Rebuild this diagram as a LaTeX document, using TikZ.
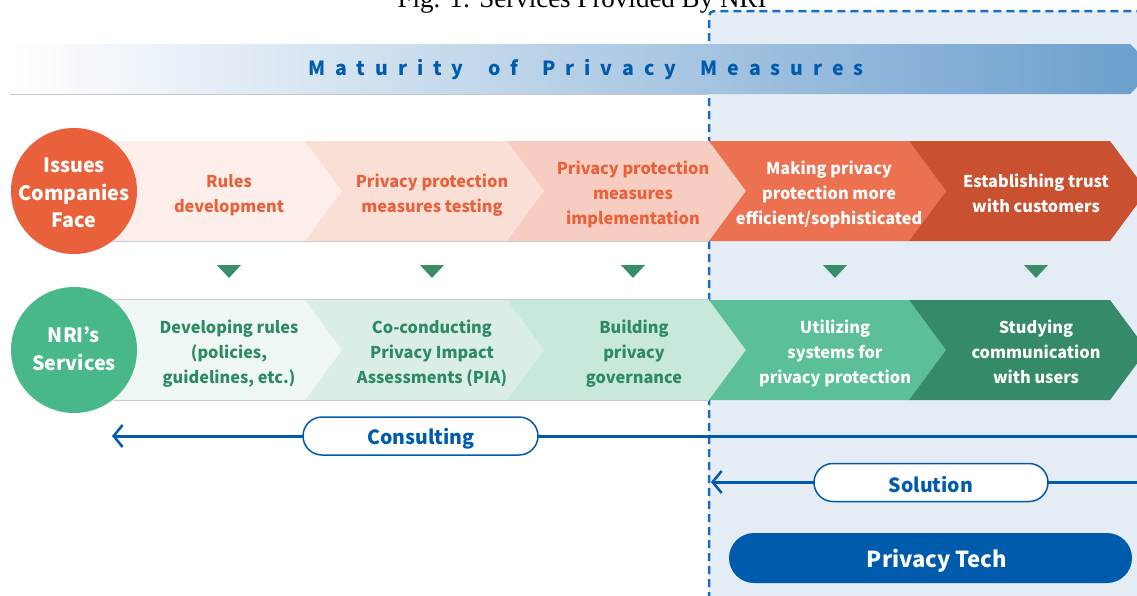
\documentclass[tikz,border=0pt]{standalone}
\usepackage{fontspec}
\setmainfont{Noto Sans CJK JP}
\newfontfamily\serifx{Liberation Serif}
\usetikzlibrary{arrows.meta,shapes.misc}
\definecolor{issueC}{HTML}{E8613A}
\definecolor{rA}{HTML}{FDEEEA}
\definecolor{rB}{HTML}{FADFD6}
\definecolor{rC}{HTML}{F6CDC0}
\definecolor{rD}{HTML}{EC7150}
\definecolor{rE}{HTML}{C9512F}
\definecolor{nriC}{HTML}{48B78A}
\definecolor{gA}{HTML}{EEF7F3}
\definecolor{gB}{HTML}{DAEEE5}
\definecolor{gC}{HTML}{C8E8DA}
\definecolor{gD}{HTML}{5BBF98}
\definecolor{gE}{HTML}{358B67}
\definecolor{gText}{HTML}{2E8A62}
\definecolor{triC}{HTML}{398E69}
\definecolor{blueC}{HTML}{005BAC}
\definecolor{dashC}{HTML}{1A6CC0}
\definecolor{bgC}{HTML}{E4ECF6}
\definecolor{barR}{HTML}{6A9ECD}
\newcommand{\mychev}[4]{\fill[#4] (#1,#2-50) -- (#3,#2-50) -- (#3+37,#2) -- (#3,#2+50) -- (#1,#2+50) -- (#1+37,#2) -- cycle;}
\tikzset{
  rowtext/.style={align=center, font=\bfseries\fontsize{16.3}{25}\selectfont, inner sep=0pt, yshift=-2.5pt},
  circtext/.style={circle, minimum size=126pt, inner sep=0pt, align=center, text=white,
    font=\bfseries\fontsize{19.7}{27.5}\selectfont},
  pill/.style={draw=blueC, line width=1.5pt, fill=white, rounded rectangle, inner sep=0pt,
    minimum height=38pt},
  pilltext/.style={text=blueC, font=\bfseries\fontsize{19.5}{24}\selectfont, inner sep=0pt},
  flowline/.style={draw=blueC, line width=3pt, -{Straight Barb[length=9pt,width=22pt,line width=2.5pt]}},
}
\begin{document}
\begin{tikzpicture}[x=1pt,y=-1pt]
\useasboundingbox (0,0) rectangle (1137,595);
\clip (0,0) rectangle (1137,595);
% background area
\fill[bgC, rounded corners=5pt] (709,11) rectangle (1160,620);
\draw[dashC, line width=2.5pt, dash pattern=on 8pt off 5pt, rounded corners=5pt] (709,600) -- (709,11) -- (1160,11);
% title
\node[font=\serifx\fontsize{27}{28}\selectfont, anchor=base, inner sep=0pt] (title) at (582,7) {Fig. 1: Services Provided By NRI};
% maturity bar
\shade[left color=white, right color=barR] (10,44) -- (1130,44) -- (1155,69) -- (1130,94) -- (10,94) -- cycle;
\draw[gray!45, line width=1pt] (10,94) -- (709,94);
\node[text=blueC, font=\bfseries\fontsize{19.5}{24}\selectfont\addfontfeature{LetterSpace=51}, inner sep=0pt] (mat) at (586,70) {Maturity\hspace{10pt} of\hspace{10pt} Privacy\hspace{10pt} Measures};
% row 1
\fill[rA] (113,141) -- (305,141) -- (342,191) -- (305,241) -- (113,241) -- cycle;
\mychev{305}{191}{507}{rB}
\mychev{507}{191}{709}{rC}
\mychev{709}{191}{909}{rD}
\mychev{909}{191}{1110}{rE}
\draw[gray!40, line width=1pt] (113,241) -- (709,241);
% row 2
\fill[gA] (113,300) -- (305,300) -- (342,350) -- (305,400) -- (113,400) -- cycle;
\mychev{305}{350}{507}{gB}
\mychev{507}{350}{709}{gC}
\mychev{709}{350}{909}{gD}
\mychev{909}{350}{1110}{gE}
\draw[gray!40, line width=1pt] (113,299.5) -- (709,299.5);
\draw[gray!40, line width=1pt] (113,400.5) -- (709,400.5);
% circles
\node[circtext, fill=issueC] (issues) at (74,191) {};
\node[circtext, yshift=-2pt] (issuesT) at (74,191) {Issues\\Companies\\Face};
\node[circtext, fill=nriC] (nri) at (74,350) {};
\node[circtext] (nriT) at (74,349) {NRI’s\\Services};
% row 1 texts
\node[rowtext, text=issueC] (i1) at (229,193) {Rules\\development};
\node[rowtext, text=issueC] (i2) at (432,193) {Privacy protection\\measures testing};
\node[rowtext, text=issueC] (i3) at (633,192) {Privacy protection\\measures\\implementation};
\node[rowtext, text=white] (i4) at (829,192) {Making privacy\\protection more\\efficient/sophisticated};
\node[rowtext, text=white] (i5) at (1036,191) {Establishing trust\\with customers};
% row 2 texts
\node[rowtext, text=gText] (s1) at (229,351) {Developing rules\\(policies,\\guidelines, etc.)};
\node[rowtext, text=gText] (s2) at (432,351) {Co-conducting\\Privacy Impact\\Assessments (PIA)};
\node[rowtext, text=gText] (s3) at (634,351) {Building\\privacy\\governance};
\node[rowtext, text=white] (s4) at (835,351) {Utilizing\\systems for\\privacy protection};
\node[rowtext, text=white] (s5) at (1036,349) {Studying\\communication\\with users};
% triangles
\foreach \xx in {229,432,633,835,1036} {
  \fill[triC] (\xx-12,265) -- (\xx+12,265) -- (\xx,278) -- cycle;
}
% consulting arrow
\coordinate (cR) at (1140,436);
\coordinate (cL) at (112,436);
\draw[flowline] (cR) -- (cL);
\node[pill, minimum width=235pt] (cons) at (420.5,436) {};
\node[pilltext] (consT) at (421,439) {Consulting};
% solution arrow
\coordinate (sR) at (1140,482);
\coordinate (sL) at (711,482);
\draw[flowline] (sR) -- (sL);
\node[pill, minimum width=234pt] (sol) at (931,482.5) {};
\node[pilltext] (solT) at (931,485) {Solution};
% privacy tech
\node[fill=blueC, rounded rectangle, minimum width=403pt, minimum height=50pt, inner sep=0pt] (ptech) at (930.5,558) {};
\node[text=white, font=\bfseries\fontsize{22}{27}\selectfont, inner sep=0pt] (ptechT) at (937,560.5) {Privacy Tech};
\end{tikzpicture}
\end{document}
